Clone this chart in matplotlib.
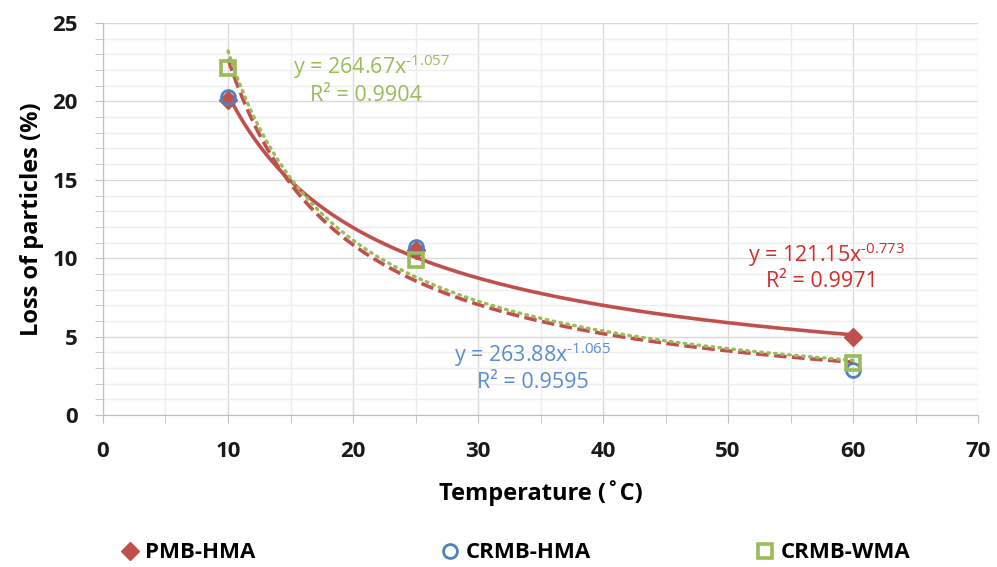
import numpy as np
import matplotlib
matplotlib.use("Agg")
import matplotlib.pyplot as plt
from matplotlib.ticker import MultipleLocator

plt.rcParams['font.family'] = ['Open Sans', 'DejaVu Sans']
plt.rcParams['mathtext.fontset'] = 'custom'
plt.rcParams['mathtext.rm'] = 'Open Sans'
plt.rcParams['mathtext.it'] = 'Open Sans'

# Measured loss of particles at each test temperature
temperature = [10, 25, 60]
pmb_hma = [20.1, 10.5, 5.0]
crmb_hma = [20.3, 10.7, 2.9]
crmb_wma = [22.1, 9.9, 3.3]

# Power-law trendlines y = a * x^b
fit_pmb = (121.15, -0.773, 0.9971)
fit_crmb_hma = (263.88, -1.065, 0.9595)
fit_crmb_wma = (264.67, -1.057, 0.9904)

RED = '#C0504D'
BLUE = '#4F81BD'
GREEN = '#9BBB59'

fig = plt.figure(figsize=(9.97, 5.67), dpi=100)
ax = fig.add_axes([0.1033, 0.268, 0.8777, 0.6914])

xs = np.linspace(10, 60, 300)
a, b, _ = fit_pmb
ax.plot(xs, a * xs ** b, color=RED, lw=2.6, solid_capstyle='round', zorder=3)
a, b, _ = fit_crmb_hma
ax.plot(xs, a * xs ** b, color=RED, lw=2.6, ls=(0, (3.5, 1.5)), zorder=3)
a, b, _ = fit_crmb_wma
ax.plot(xs, a * xs ** b, color=GREEN, lw=2.4, ls=(0, (0.5, 1.6)),
        dash_capstyle='round', zorder=4)

h1, = ax.plot(temperature, pmb_hma, ls='none', marker='D', ms=9, color=RED,
              label='PMB-HMA', zorder=5)
h2, = ax.plot(temperature, crmb_hma, ls='none', marker='o', ms=10, mfc='none',
              mec=BLUE, mew=2, label='CRMB-HMA', zorder=5)
h3, = ax.plot(temperature, crmb_wma, ls='none', marker='s', ms=10, mfc='none',
              mec=GREEN, mew=2.6, label='CRMB-WMA', zorder=5)


def power_eq(a, b):
    return 'y = %.2fx$^{\\text{%.3f}}$' % (a, b)


# Trendline equations
eq_size = 15.5
ax.text(21.5, 22.2, power_eq(*fit_crmb_wma[:2]), color=GREEN,
        fontsize=eq_size, ha='center', va='center')
ax.text(21.0, 20.4, 'R² = %.4f' % fit_crmb_wma[2], color=GREEN,
        fontsize=eq_size, ha='center', va='center')
ax.text(57.9, 10.2, power_eq(*fit_pmb[:2]), color='#D22B2B',
        fontsize=eq_size, ha='center', va='center')
ax.text(57.5, 8.5, 'R² = %.4f' % fit_pmb[2], color='#D22B2B',
        fontsize=eq_size, ha='center', va='center')
ax.text(34.4, 3.85, power_eq(*fit_crmb_hma[:2]), color='#5B8BD0',
        fontsize=eq_size, ha='center', va='center')
ax.text(34.4, 2.05, 'R² = %.4f' % fit_crmb_hma[2], color='#5B8BD0',
        fontsize=eq_size, ha='center', va='center')

ax.set_xlim(0, 70)
ax.set_ylim(0, 25)
ax.xaxis.set_major_locator(MultipleLocator(10))
ax.xaxis.set_minor_locator(MultipleLocator(5))
ax.yaxis.set_major_locator(MultipleLocator(5))
ax.yaxis.set_minor_locator(MultipleLocator(1))
ax.grid(which='major', color='#D9D9D9', lw=1.0)
ax.grid(which='minor', color='#EDEDED', lw=1.0)
ax.set_axisbelow(True)
for s in ('top', 'right'):
    ax.spines[s].set_visible(False)
for s in ('left', 'bottom'):
    ax.spines[s].set_color('#BFBFBF')
ax.tick_params(which='both', direction='out', color='#BFBFBF', length=6)
ax.tick_params(axis='x', labelsize=16, pad=13)
ax.tick_params(axis='y', labelsize=16, pad=12)
for lbl in ax.get_xticklabels() + ax.get_yticklabels():
    lbl.set_fontweight('bold')
    lbl.set_color('#1A1A1A')

ax.set_xlabel('Temperature (˚C)', fontsize=17, fontweight='bold', labelpad=13)
ax.set_ylabel('Loss of particles (%)', fontsize=17, fontweight='bold', labelpad=6)

# One legend entry per slot along the bottom
legend_y = 1 - 553 / 567
for handle, x_left in ((h1, 121), (h2, 441), (h3, 756)):
    fig.legend(handles=[handle], loc='center left',
               bbox_to_anchor=(x_left / 997, legend_y), borderaxespad=0,
               borderpad=0, frameon=False, handletextpad=0.3,
               prop={'weight': 'bold', 'size': 16}, handlelength=0.8)

fig.savefig('out.png', dpi=100)
